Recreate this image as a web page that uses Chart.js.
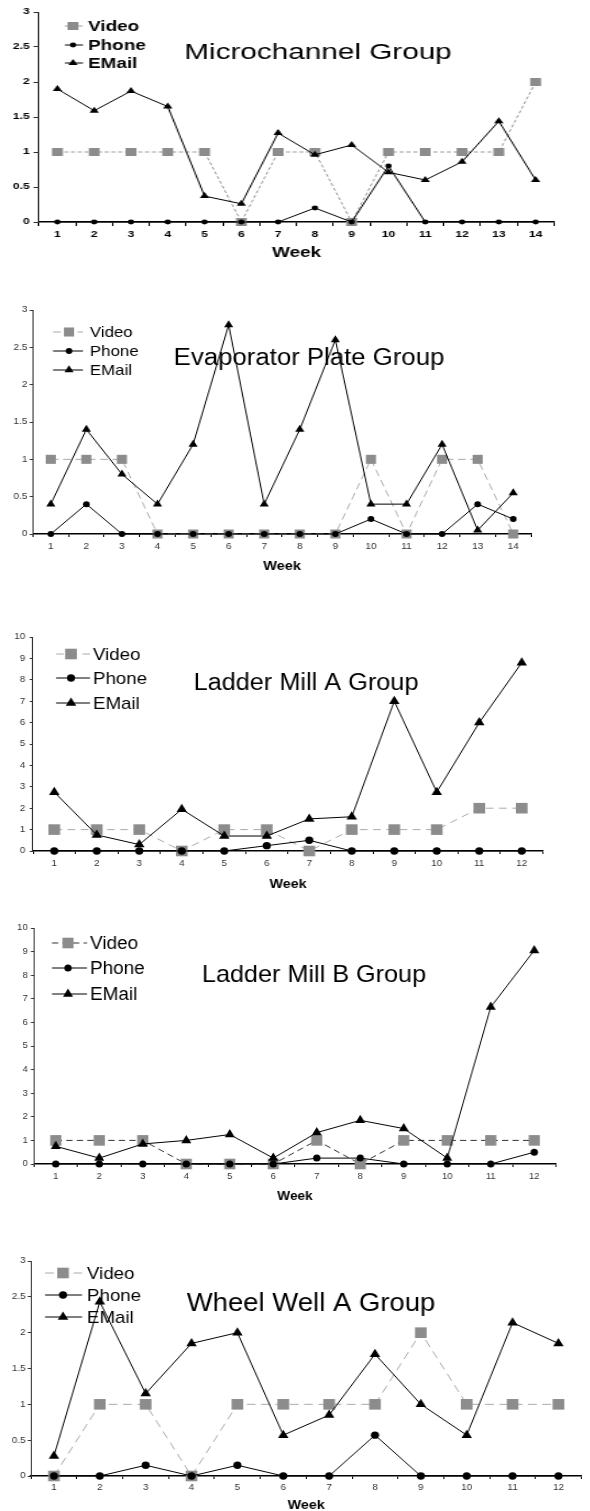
<!DOCTYPE html>
<html>
<head>
<meta charset="utf-8">
<script src="https://cdn.jsdelivr.net/npm/chart.js@4.4.0/dist/chart.umd.min.js"></script>
<style>
  html, body { margin: 0; padding: 0; background: #fff; overflow: hidden; }
  #page { position: relative; width: 590px; height: 1511px; }
  canvas { position: absolute; left: 0; transform-origin: 0 0; }
</style>
</head>
<body>
<div id="page"></div>
<script>
// 週次
const weeks14 = ["1", "2", "3", "4", "5", "6", "7", "8", "9", "10", "11", "12", "13", "14"];
const weeks12 = ["1", "2", "3", "4", "5", "6", "7", "8", "9", "10", "11", "12"];
const seriesNames = ["Video", "Phone", "EMail"];

// Microchannel Group
const mcVideo = [1, 1, 1, 1, 1, 0, 1, 1, 0, 1, 1, 1, 1, 2];
const mcPhone = [0, 0, 0, 0, 0, 0, 0, 0.2, 0, 0.8, 0, 0, 0, 0];
const mcEmail = [1.9, 1.59, 1.87, 1.65, 0.37, 0.26, 1.27, 0.96, 1.1, 0.71, 0.6, 0.86, 1.44, 0.6];

// Evaporator Plate Group
const epVideo = [1, 1, 1, 0, 0, 0, 0, 0, 0, 1, 0, 1, 1, 0];
const epPhone = [0, 0.4, 0, 0, 0, 0, 0, 0, 0, 0.2, 0, 0, 0.4, 0.2];
const epEmail = [0.4, 1.4, 0.8, 0.4, 1.2, 2.8, 0.4, 1.4, 2.6, 0.4, 0.4, 1.2, 0.05, 0.55];

// Ladder Mill A Group
const laVideo = [1, 1, 1, 0, 1, 1, 0, 1, 1, 1, 2, 2];
const laPhone = [0, 0, 0, 0, 0, 0.25, 0.5, 0, 0, 0, 0, 0];
const laEmail = [2.75, 0.75, 0.3, 1.95, 0.7, 0.7, 1.5, 1.6, 7, 2.75, 6, 8.8];

// Ladder Mill B Group
const lbVideo = [1, 1, 1, 0, 0, 0, 1, 0, 1, 1, 1, 1];
const lbPhone = [0, 0, 0, 0, 0, 0, 0.25, 0.25, 0, 0, 0, 0.5];
const lbEmail = [0.75, 0.25, 0.85, 1, 1.25, 0.25, 1.33, 1.85, 1.5, 0.25, 6.65, 9.05];

// Wheel Well A Group
const wwVideo = [0, 1, 1, 0, 1, 1, 1, 1, 2, 1, 1, 1];
const wwPhone = [0, 0, 0.15, 0, 0.15, 0, 0, 0.57, 0, 0, 0, 0];
const wwEmail = [0.28, 2.43, 1.15, 1.85, 2, 0.57, 0.85, 1.7, 1, 0.57, 2.14, 1.85];

const FONT = "'Liberation Sans', Arial, sans-serif";
Chart.defaults.font.family = FONT;

// 每張圖的版面 (頁面像素)
const panels = [
  {
    title: "Microchannel Group", labels: weeks14, data: [mcVideo, mcPhone, mcEmail], ymax: 3, step: 0.5,
    sx: 1.35, area: { l: 39, r: 554, t: 12, b: 222 }, weekY: 254, weekSize: 14,
    tickBold: true, tickColor: "#000", tickSize: 9, tl: 4, yPad: 3, xPad: 3,
    head: { cx: 318, cy: 51, size: 22 },
    legend: { x0: 65, x1: 83, xm: 73, xt: 88, ys: [26, 45, 63], size: 14, bold: true },
    radii: [5.7, 2.4, 4], videoColor: "#999", videoDash: [3, 2],
  },
  {
    title: "Evaporator Plate Group", labels: weeks14, data: [epVideo, epPhone, epEmail], ymax: 3, step: 0.5,
    sx: 1.12, area: { l: 33, r: 531, t: 310, b: 534 }, weekY: 566, weekSize: 13,
    tickBold: false, tickColor: "#333", tickSize: 9, tl: 3, yPad: 2, xPad: 4,
    head: { cx: 309, cy: 357, size: 23 },
    legend: { x0: 53, x1: 83, xm: 69, xt: 90, ys: [332, 351, 370], size: 15, bold: false },
    radii: [6.4, 3, 4.7], videoColor: "#aaa", videoDash: [7, 4],
  },
  {
    title: "Ladder Mill A Group", labels: weeks12, data: [laVideo, laPhone, laEmail], ymax: 10, step: 1,
    sx: 1.1, area: { l: 33, r: 543, t: 637, b: 851 }, weekY: 884, weekSize: 13,
    tickBold: false, tickColor: "#333", tickSize: 9, tl: 3, yPad: 4, xPad: 4,
    head: { cx: 306, cy: 682, size: 23 },
    legend: { x0: 56, x1: 90, xm: 71, xt: 93, ys: [654, 678, 703], size: 17, bold: false },
    radii: [7.5, 3.7, 5.5], videoColor: "#aaa", videoDash: [7, 5],
  },
  {
    title: "Ladder Mill B Group", labels: weeks12, data: [lbVideo, lbPhone, lbEmail], ymax: 10, step: 1,
    sx: 1.05, area: { l: 34, r: 556, t: 928, b: 1164 }, weekY: 1196, weekSize: 13,
    tickBold: false, tickColor: "#333", tickSize: 9, tl: 3, yPad: 3, xPad: 4,
    head: { cx: 314, cy: 973, size: 24 },
    legend: { x0: 52, x1: 87, xm: 68, xt: 90, ys: [943, 968, 994], size: 18, bold: false },
    radii: [7.5, 3.5, 5.5], videoColor: "#333", videoDash: [6, 4],
  },
  {
    title: "Wheel Well A Group", labels: weeks12, data: [wwVideo, wwPhone, wwEmail], ymax: 3, step: 0.5,
    sx: 1.1, area: { l: 31, r: 587, t: 1261, b: 1476 }, weekY: 1505, weekSize: 13,
    tickBold: false, tickColor: "#333", tickSize: 9, tl: 3, yPad: 2, xPad: 3,
    head: { cx: 311, cy: 1302, size: 25 },
    legend: { x0: 45, x1: 82, xm: 63, xt: 87, ys: [1273, 1295, 1317], size: 17, bold: false },
    radii: [7.5, 3.7, 5.5], videoColor: "#aaa", videoDash: [8, 5],
  },
];

const pointStyles = ["rect", "circle", "triangle"];
const markFill = ["#8c8c8c", "#000", "#000"];

// 圖內標題與圖例
const overlayPlugin = {
  id: "overlay",
  afterDraw(chart, args, o) {
    const ctx = chart.ctx;
    ctx.save();
    ctx.fillStyle = "#000";
    ctx.textAlign = "center";
    ctx.textBaseline = "alphabetic";
    ctx.font = `${o.head.size}px ${FONT}`;
    ctx.fillText(o.text, o.head.x, o.head.y + 0.358 * o.head.size);

    const lg = o.legend;
    seriesNames.forEach((name, i) => {
      const y = lg.ys[i];
      ctx.strokeStyle = o.lineColors[i];
      ctx.lineWidth = 1;
      ctx.setLineDash(i === 0 ? o.videoDash : []);
      ctx.beginPath();
      ctx.moveTo(lg.x0, y);
      ctx.lineTo(lg.x1, y);
      ctx.stroke();
      ctx.setLineDash([]);
      ctx.fillStyle = markFill[i];
      ctx.strokeStyle = markFill[i];
      Chart.helpers.drawPoint(ctx, { pointStyle: pointStyles[i], radius: o.radii[i], rotation: 0, borderWidth: 0 }, lg.xm, y);
      ctx.fillStyle = "#000";
      ctx.textAlign = "left";
      ctx.font = `${lg.bold ? "bold " : ""}${lg.size}px ${FONT}`;
      ctx.fillText(name, lg.xt, y + 0.358 * lg.size);
    });
    ctx.restore();
  },
};

const page = document.getElementById("page");

const drawPanel = (p) => {
  const T = p.area.t - 12;
  const H = p.weekY + 8 - T;
  const W = Math.round(590 / p.sx);
  const canvas = document.createElement("canvas");
  canvas.width = W;
  canvas.height = H;
  canvas.style.top = T + "px";
  canvas.style.width = W + "px";
  canvas.style.height = H + "px";
  canvas.style.transform = `scaleX(${p.sx})`;
  page.appendChild(canvas);

  const L = p.area.l / p.sx;
  const R = p.area.r / p.sx;
  const xHeight = H - (p.area.b - T);
  const X = (v) => v / p.sx;
  const Y = (v) => v - T;
  const tickFont = { size: p.tickSize, weight: p.tickBold ? "bold" : "normal" };
  const lineColors = [p.videoColor, "#000", "#000"];

  new Chart(canvas, {
    type: "line",
    data: {
      labels: p.labels,
      datasets: seriesNames.map((name, i) => ({
        label: name,
        data: p.data[i],
        order: 3 - i,
        borderColor: lineColors[i],
        borderWidth: 1,
        borderDash: i === 0 ? p.videoDash : [],
        pointStyle: pointStyles[i],
        pointRadius: p.radii[i],
        pointBackgroundColor: markFill[i],
        pointBorderColor: markFill[i],
        pointBorderWidth: 0,
        tension: 0,
        clip: false,
      })),
    },
    options: {
      responsive: false,
      animation: false,
      layout: { padding: { left: 0, top: 12, right: W - R, bottom: 0 } },
      plugins: {
        legend: { display: false },
        tooltip: { enabled: false },
        overlay: {
          text: p.title,
          head: { x: X(p.head.cx), y: Y(p.head.cy), size: p.head.size },
          legend: {
            x0: X(p.legend.x0), x1: X(p.legend.x1), xm: X(p.legend.xm), xt: X(p.legend.xt),
            ys: p.legend.ys.map(Y), size: p.legend.size, bold: p.legend.bold,
          },
          radii: p.radii,
          lineColors: lineColors,
          videoDash: p.videoDash,
        },
      },
      scales: {
        x: {
          type: "category",
          offset: true,
          afterFit: (s) => { s.height = xHeight; },
          grid: { offset: true, drawOnChartArea: false, drawTicks: true, tickLength: p.tl, color: "#000" },
          border: { color: "#000", width: 1.5 },
          ticks: { font: tickFont, color: p.tickColor, padding: p.xPad, maxRotation: 0, autoSkip: false },
          title: {
            display: true, text: "Week", color: "#000",
            font: { size: p.weekSize, weight: "bold" }, padding: { top: 0, bottom: 0 },
          },
        },
        y: {
          min: 0,
          max: p.ymax,
          afterFit: (s) => { s.width = L; },
          grid: { drawOnChartArea: false, drawTicks: true, tickLength: p.tl, color: "#333" },
          border: { color: "#333", width: 1 },
          ticks: {
            stepSize: p.step, font: tickFont, color: p.tickColor, padding: p.yPad,
            callback: (v) => String(Math.round(v * 10) / 10),
          },
        },
      },
    },
    plugins: [overlayPlugin],
  });
};

panels.forEach(drawPanel);
</script>
</body>
</html>
